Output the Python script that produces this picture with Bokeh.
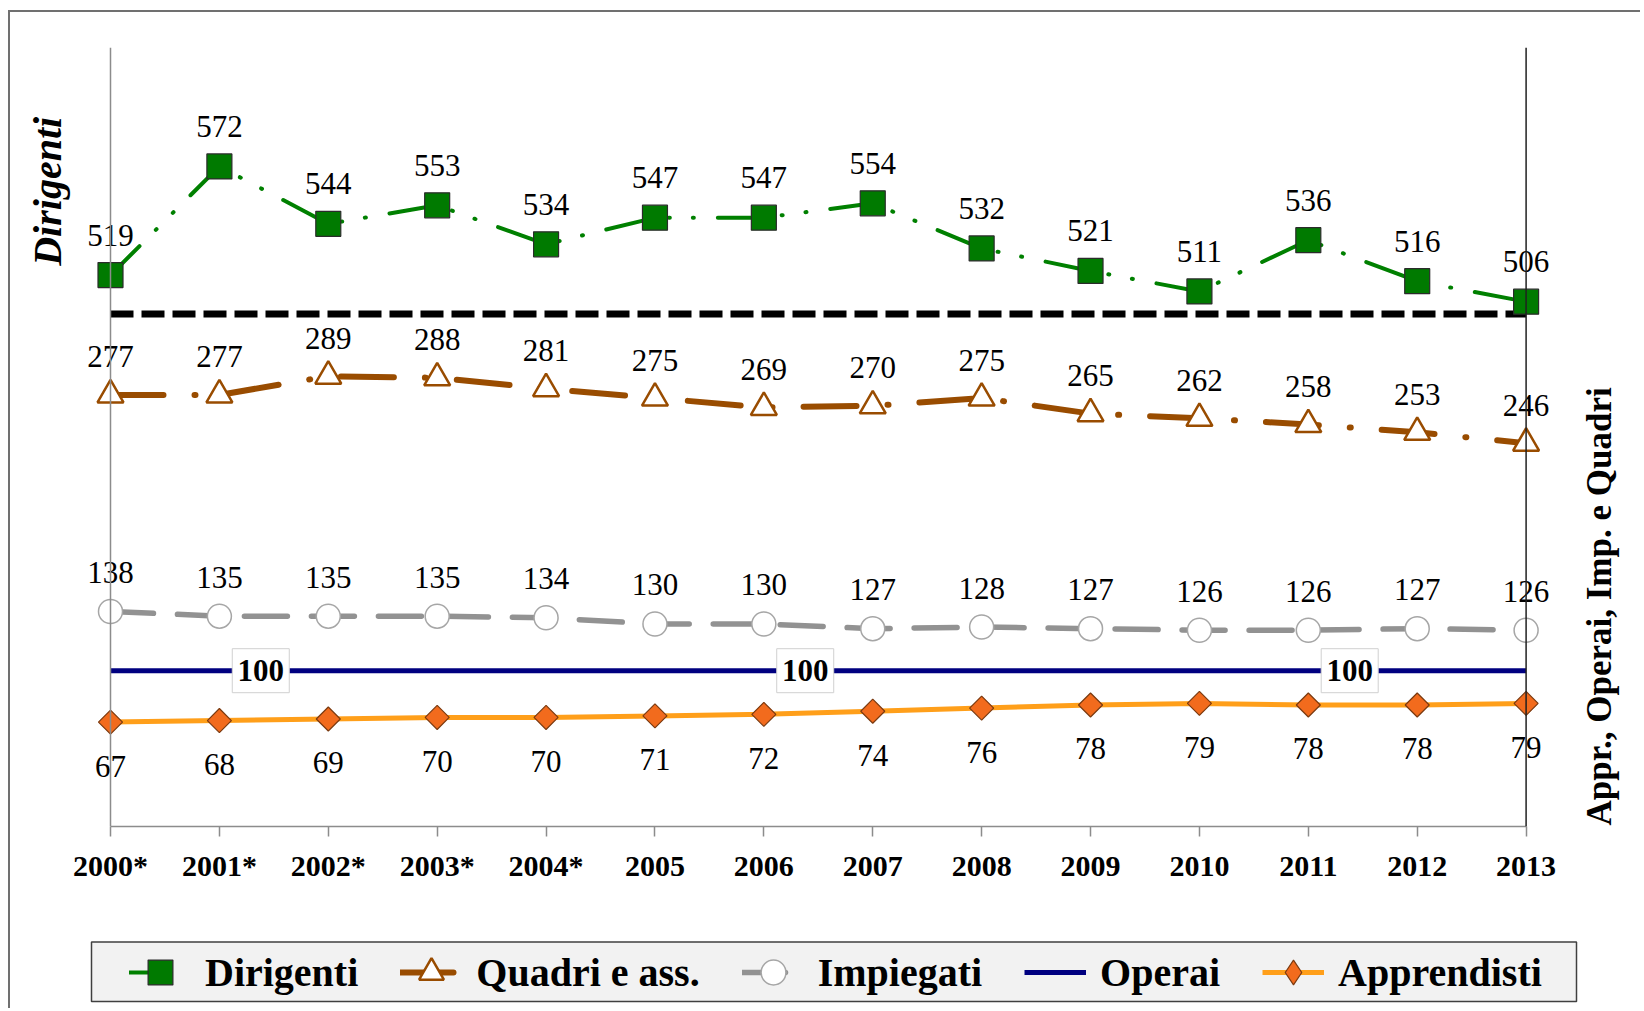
import numpy as np
from bokeh.plotting import figure
from bokeh.layouts import column
from bokeh.models import (Range1d, LinearAxis, FixedTicker, Span, Label, Legend,
                          LegendItem)
from bokeh.embed import file_html
from bokeh.resources import INLINE
from bokeh.core.properties import value

# ---------------- data ----------------
years = ["2000*", "2001*", "2002*", "2003*", "2004*", "2005", "2006",
         "2007", "2008", "2009", "2010", "2011", "2012", "2013"]
dirigenti = [519, 572, 544, 553, 534, 547, 547, 554, 532, 521, 511, 536, 516, 506]
quadri = [277, 277, 289, 288, 281, 275, 269, 270, 275, 265, 262, 258, 253, 246]
impiegati = [138, 135, 135, 135, 134, 130, 130, 127, 128, 127, 126, 126, 127, 126]
operai = [100] * 14
apprendisti = [67, 68, 69, 70, 70, 71, 72, 74, 76, 78, 79, 78, 78, 79]
operai_label_idx = [1, 6, 11]
break_value = 500          # dashed separator on the Dirigenti axis
left_range = (250, 630)    # Dirigenti axis
right_range = (0, 500)     # other series axis
series_names = ["Dirigenti", "Quadri e ass.", "Impiegati", "Operai", "Apprendisti"]

FONT = "Liberation Serif"
x = list(range(len(years)))
n = len(years) - 1

# ---------------- styles ----------------
ST = {
    "Dirigenti": dict(line=dict(line_color="#008000", line_width=4, line_dash="41 23 1 23 1 24", line_cap="round"),
                      mk=dict(marker="square", size=25, fill_color="#007A00", line_color="#2b2b2b", line_width=1.2)),
    "Quadri e ass.": dict(line=dict(line_color="#994C00", line_width=6, line_dash="53 31 1 31", line_cap="round"),
                          mk=dict(marker="triangle", size=26, fill_color="white", line_color="#994C00", line_width=2.5)),
    "Impiegati": dict(line=dict(line_color="#929292", line_width=5.5, line_dash="43 24", line_cap="round"),
                      mk=dict(marker="circle", size=24, fill_color="white", line_color="#a6a6a6", line_width=1.5)),
    "Operai": dict(line=dict(line_color="#000080", line_width=5), mk=None),
    "Apprendisti": dict(line=dict(line_color="#FF9F1A", line_width=5),
                        mk=dict(marker="square", angle=np.pi / 4, size=17, fill_color="#F26B1D",
                                line_color="#7a3a10", line_width=1.2)),
}

# ---------------- layout (page pixels) ----------------
OX, OY = 10, 12            # content origin on the page (margin + border)
W, H = 1630, 996
H1 = 918                   # chart figure height
H2 = H - H1                # legend strip height
AX0, AX1 = 110, 1525.6     # page x of first / last category
TOP, BOT = 47.2, 826       # page y of the plot frame
FL, FR = 25, 1620          # page x of frame left / right
ppu = (AX1 - AX0) / n
BL = FL - OX
BR = W - (FR - OX)
BT = int(round(TOP - OY))
BB = H1 - int(round(BOT - OY))
x_start = -(AX0 - FL) / ppu
x_end = n + (FR - AX1) / ppu
ypx = (BOT - TOP) / (left_range[1] - left_range[0])

p = figure(width=W, height=H1, output_backend="svg", toolbar_location=None,
           x_range=Range1d(x_start, x_end), y_range=Range1d(*left_range),
           y_axis_location=None, x_axis_location=None,
           min_border_left=BL, min_border_right=BR, min_border_top=BT,
           min_border_bottom=BB)
p.extra_y_ranges = {"right": Range1d(*right_range)}
p.xgrid.visible = False
p.ygrid.visible = False
p.outline_line_color = None
p.background_fill_color = "white"
p.border_fill_color = "white"

# x axis
xaxis = LinearAxis(ticker=FixedTicker(ticks=x), bounds=(0, n))
xaxis.major_label_overrides = {i: y for i, y in enumerate(years)}
xaxis.axis_line_color = "#8c8c8c"
xaxis.axis_line_width = 1.5
xaxis.major_tick_line_color = "#8c8c8c"
xaxis.major_tick_line_width = 1.5
xaxis.major_tick_in = 0
xaxis.major_tick_out = 10
xaxis.minor_tick_line_color = None
xaxis.major_label_standoff = 12
xaxis.major_label_text_font = FONT
xaxis.major_label_text_font_style = "bold"
xaxis.major_label_text_font_size = "30px"
xaxis.major_label_text_color = "black"
p.add_layout(xaxis, "below")

# vertical axis lines
p.add_layout(Span(location=0, dimension="height", line_color="#8c8c8c", line_width=1.5))
p.add_layout(Span(location=n, dimension="height", line_color="#202020", line_width=1.5))

# dashed separator
p.segment(x0=[0], y0=[break_value], x1=[n], y1=[break_value],
          line_color="black", line_width=7, line_dash="23 8")

def labels(vals, rng, off, bold=False, xs=None):
    kw = dict(y_range_name=rng) if rng else {}
    p.text(xs if xs is not None else x, vals, text=[str(v) for v in vals], y_offset=off,
           text_align="center", text_baseline="middle", text_font=value(FONT),
           text_font_style="bold" if bold else "normal", text_font_size="31px",
           text_color="black", **kw)

# ---- Operai ----
p.line(x, operai, y_range_name="right", **ST["Operai"]["line"])
lab_x = [i + 0.38 for i in operai_label_idx]
lab_y = [operai[i] for i in operai_label_idx]
p.rect(lab_x, lab_y, width=57, height=44, width_units="screen", height_units="screen",
       y_range_name="right", fill_color="white", line_color="#d0d0d0", line_width=1)
labels(lab_y, "right", 0, bold=True, xs=lab_x)

# ---- Apprendisti ----
p.line(x, apprendisti, y_range_name="right", **ST["Apprendisti"]["line"])
p.scatter(x, apprendisti, y_range_name="right", **ST["Apprendisti"]["mk"])
labels(apprendisti, "right", 44)

# ---- Impiegati ----
p.line(x, impiegati, y_range_name="right", **ST["Impiegati"]["line"])
p.scatter(x, impiegati, y_range_name="right", **ST["Impiegati"]["mk"])
labels(impiegati, "right", -39)

# ---- Quadri ----
p.line(x, quadri, y_range_name="right", **ST["Quadri e ass."]["line"])
p.scatter(x, quadri, y_range_name="right", **ST["Quadri e ass."]["mk"])
labels(quadri, "right", -38)

# ---- Dirigenti ----
p.line(x, dirigenti, **ST["Dirigenti"]["line"])
p.scatter(x, dirigenti, **ST["Dirigenti"]["mk"])
labels(dirigenti, None, -40)

# axis titles
p.add_layout(Label(x=(47 - AX0) / ppu, y=left_range[1] - (191 - TOP) / ypx, text="Dirigenti",
                   angle=np.pi / 2, text_align="center", text_baseline="middle", text_font=FONT,
                   text_font_style="bold italic", text_font_size="40px", text_color="black"))
p.add_layout(Label(x=n + (1599 - AX1) / ppu, y=left_range[1] - (606 - TOP) / ypx,
                   text="Appr., Operai, Imp. e Quadri",
                   angle=np.pi / 2, text_align="center", text_baseline="middle", text_font=FONT,
                   text_font_style="bold", text_font_size="35px", text_color="black"))

# ---------------- legend strip ----------------
lg = figure(width=W, height=H2, output_backend="svg", toolbar_location=None,
            x_range=Range1d(FL, FR), y_range=Range1d(0, H2),
            x_axis_location=None, y_axis_location=None,
            min_border_left=BL, min_border_right=BR, min_border_top=0, min_border_bottom=0)
lg.xgrid.visible = False
lg.ygrid.visible = False
lg.outline_line_color = None
lg.background_fill_color = "white"
lg.border_fill_color = "white"

TOP2 = OY + H1
box_l, box_r, box_t, box_b = 91, 1576, H2 - (941.5 - TOP2), H2 - (1001 - TOP2)
lg.quad(left=[box_l], right=[box_r], top=[box_t], bottom=[box_b],
        fill_color="#f2f2f2", line_color="#404040", line_width=1.5)

items = []
for name in series_names:
    rs = [lg.line([np.nan], [np.nan], **ST[name]["line"])]
    mk = ST[name]["mk"]
    if mk is not None:
        mk = dict(mk)
        if name == "Apprendisti":
            mk.pop("angle")
            mk.update(marker="diamond")
        rs.append(lg.scatter([np.nan], [np.nan], **mk))
    items.append(LegendItem(label=name, renderers=rs))

GH = 62
legend = Legend(items=items, orientation="horizontal",
                location=(136 - 10 - FL + 3, (box_b + box_t) / 2 - GH / 2 - 10 + 9))
legend.label_text_font = FONT
legend.label_text_font_style = "bold"
legend.label_text_font_size = "40px"
legend.label_text_color = "black"
legend.glyph_width = 62
legend.glyph_height = GH
legend.label_height = GH
legend.label_standoff = 14
legend.spacing = 42
legend.padding = 10
legend.margin = 0
legend.background_fill_alpha = 0
legend.border_line_color = None
lg.add_layout(legend, "center")

layout = column(p, lg, spacing=0)
layout.styles = {"margin-left": "8px", "margin-top": "10px",
                 "border-left": "2px solid #707070", "border-top": "2px solid #707070"}

open("out.html", "w").write(file_html(layout, INLINE))
